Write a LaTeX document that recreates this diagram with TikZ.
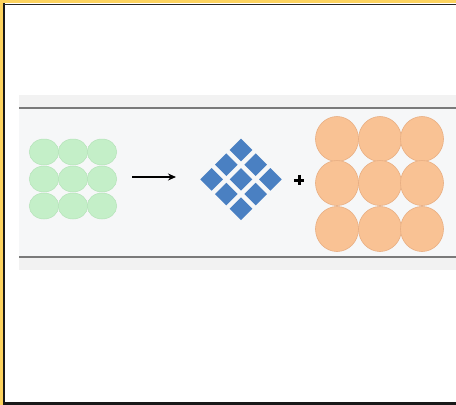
\documentclass[tikz,border=0pt]{standalone}
\usetikzlibrary{shapes.geometric,arrows.meta}
\definecolor{frameyellow}{HTML}{FDD35E}
\definecolor{panelout}{HTML}{F2F2F2}
\definecolor{panelin}{HTML}{F6F7F8}
\definecolor{panelline}{HTML}{7A7A7A}
\definecolor{greenfill}{HTML}{C4EFC8}
\definecolor{greenedge}{HTML}{B5E3B9}
\definecolor{bluefill}{HTML}{4A80C2}
\definecolor{orangefill}{HTML}{F9C294}
\definecolor{orangeedge}{HTML}{E8AE82}
\tikzset{
  gdot/.style={ellipse, fill=greenfill, draw=greenedge, line width=0.5pt, minimum width=29.5pt, minimum height=26pt, inner sep=0pt},
  bsq/.style={rectangle, fill=bluefill, minimum size=16pt, inner sep=0pt, rotate=45},
  odot/.style={ellipse, fill=orangefill, draw=orangeedge, line width=0.6pt, minimum width=43pt, minimum height=45pt, inner sep=0pt},
  plusmark/.style={minimum size=10pt, inner sep=0pt},
}
\begin{document}
\begin{tikzpicture}[x=1pt,y=-1pt]
\useasboundingbox (0,0) rectangle (456,405);
% frame
\fill[frameyellow] (0,0) rectangle (456,405);
\fill[white] (3,3) rectangle (456,405);
\draw[black!90, line width=2pt] (4,3) -- (4,405);
\draw[black!85, line width=1.6pt] (3,4.5) -- (456,4.5);
\draw[black!90, line width=3pt] (3,403.5) -- (456,403.5);
% panel
\fill[panelout] (19,95) rectangle (456,270);
\fill[panelin] (19,108) rectangle (456,257);
\draw[panelline, line width=1.3pt] (19,108) -- (456,108);
\draw[panelline, line width=1.3pt] (19,257) -- (456,257);
% green dots
\foreach \i/\x in {1/44,2/73,3/102}{
  \foreach \j/\y in {1/152,2/179,3/206}{
    \node[gdot] (g\i\j) at (\x,\y) {};
  }
}
% arrow
\coordinate (arrS) at (132,177);
\coordinate (arrE) at (176,177);
\draw[-{Stealth[length=8pt,width=7pt]}, line width=1.5pt] (arrS) -- (arrE);
% blue diamond grid
\foreach \i in {0,1,2}{
  \foreach \j in {0,1,2}{
    \node[bsq] (b\i\j) at ({241+(\i-\j)*14.7},{150+(\i+\j)*14.7}) {};
  }
}
% plus
\node[plusmark] (plus) at (299,180) {};
\draw[line width=3pt] (plus.north) -- (plus.south);
\draw[line width=3pt] (plus.west) -- (plus.east);
% orange dots
\foreach \i/\x in {1/337,2/380,3/422}{
  \foreach \j/\y in {1/139,2/183,3/229}{
    \node[odot] (o\i\j) at (\x,\y) {};
  }
}
\end{tikzpicture}
\end{document}
